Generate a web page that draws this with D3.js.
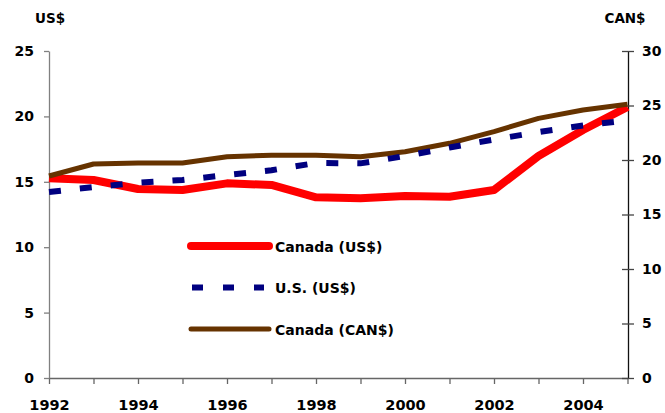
<!DOCTYPE html>
<html>
<head>
<meta charset="utf-8">
<script src="https://cdn.jsdelivr.net/npm/d3@7"></script>
<style>
  body { margin: 0; background: #fff; }
  svg text { font-family: "DejaVu Sans", sans-serif; font-weight: 700; fill: #000; }
</style>
</head>
<body>
<div id="chart"></div>
<script>
// years on the x axis
const years = [1992, 1993, 1994, 1995, 1996, 1997, 1998, 1999, 2000, 2001, 2002, 2003, 2004, 2005];
// series
const canadaUS = [15.27, 15.14, 14.45, 14.37, 14.88, 14.76, 13.81, 13.74, 13.91, 13.86, 14.37, 16.97, 18.96, 20.72];
const usUS = [14.22, 14.6, 14.92, 15.14, 15.52, 15.88, 16.44, 16.41, 16.97, 17.62, 18.23, 18.8, 19.3, 19.7];
const canadaCAN = [18.53, 19.63, 19.72, 19.72, 20.3, 20.43, 20.43, 20.3, 20.76, 21.53, 22.6, 23.82, 24.59, 25.11];

const leftTicks = [0, 5, 10, 15, 20, 25];
const rightTicks = [0, 5, 10, 15, 20, 25, 30];
const legendLabels = ["Canada (US$)", "U.S. (US$)", "Canada (CAN$)"];

const width = 665, height = 413;

const svg = d3.select("#chart")
  .append("svg")
  .attr("width", width)
  .attr("height", height);

const x = d3.scaleLinear().domain([1992, 2005]).range([49, 627.5]);
const yL = d3.scaleLinear().domain([0, 25]).range([378, 51]);
const yR = d3.scaleLinear().domain([0, 30]).range([378, 51]);

// axes
const gx = svg.append("g")
  .attr("transform", "translate(0,378)")
  .call(d3.axisBottom(x)
    .tickValues(years)
    .tickSize(6)
    .tickSizeOuter(0)
    .tickPadding(16)
    .tickFormat(d => d % 2 === 0 ? d : ""));
gx.attr("font-family", null).attr("font-size", null);
gx.select(".domain").attr("stroke", "#666").attr("stroke-width", 1.3);
gx.selectAll(".tick line").attr("stroke", "#666").attr("stroke-width", 1.3);
gx.selectAll("text").style("font-size", "14.5px").style("font-weight", "700");

const gl = svg.append("g")
  .attr("transform", "translate(49,0)")
  .call(d3.axisLeft(yL)
    .tickValues(leftTicks)
    .tickSize(5)
    .tickSizeOuter(0)
    .tickPadding(10)
    .tickFormat(d3.format("d")));
gl.attr("font-family", null).attr("font-size", null);
gl.select(".domain").attr("stroke", "#808080").attr("stroke-width", 1.3);
gl.selectAll(".tick line").attr("stroke", "#808080").attr("stroke-width", 1.3);
gl.selectAll("text").style("font-size", "14px").style("font-weight", "700");

const gr = svg.append("g")
  .attr("transform", "translate(628,0)")
  .call(d3.axisRight(yR)
    .tickValues(rightTicks)
    .tickSize(6)
    .tickSizeOuter(0)
    .tickPadding(8)
    .tickFormat(d3.format("d")));
gr.attr("font-family", null).attr("font-size", null);
gr.select(".domain").attr("stroke", "#111").attr("stroke-width", 1.3);
gr.selectAll(".tick line").attr("x1", -6).attr("stroke", "#444").attr("stroke-width", 1.3);
gr.selectAll("text").style("font-size", "14px").style("font-weight", "700");

// axis titles
svg.append("text").attr("x", 50).attr("y", 23).attr("text-anchor", "middle")
  .style("font-size", "13.5px").text("US$");
svg.append("text").attr("x", 625).attr("y", 23).attr("text-anchor", "middle")
  .style("font-size", "13.5px").text("CAN$");

// lines
const lineL = d3.line().x((d, i) => x(years[i])).y(d => yL(d));
const lineR = d3.line().x((d, i) => x(years[i])).y(d => yR(d));

svg.append("path")
  .attr("d", lineL(canadaUS))
  .attr("fill", "none")
  .attr("stroke", "#ff0000")
  .attr("stroke-width", 8)
  .attr("stroke-linejoin", "round");

svg.append("path")
  .attr("d", lineR(canadaCAN))
  .attr("fill", "none")
  .attr("stroke", "#663300")
  .attr("stroke-width", 5)
  .attr("stroke-linejoin", "round");

svg.append("path")
  .attr("d", lineL(usUS))
  .attr("fill", "none")
  .attr("stroke", "#000080")
  .attr("stroke-width", 6)
  .attr("stroke-dasharray", "12,19");

// legend
const legendStyle = [
  { color: "#ff0000", w: 8, dash: null, cap: "round" },
  { color: "#000080", w: 6, dash: "11,20", cap: "butt" },
  { color: "#663300", w: 5, dash: null, cap: "round" }
];
const legend = svg.append("g");
legendLabels.forEach((lab, i) => {
  const y = 246 + i * 41.5;
  const s = legendStyle[i];
  legend.append("line")
    .attr("x1", i === 1 ? 192 : 191).attr("x2", i === 1 ? 264 : 269)
    .attr("y1", y).attr("y2", y)
    .attr("stroke", s.color)
    .attr("stroke-width", s.w)
    .attr("stroke-linecap", s.cap)
    .attr("stroke-dasharray", s.dash);
  legend.append("text")
    .attr("x", 275).attr("y", y + 5.5)
    .style("font-size", "14px")
    .text(lab);
});
</script>
</body>
</html>
